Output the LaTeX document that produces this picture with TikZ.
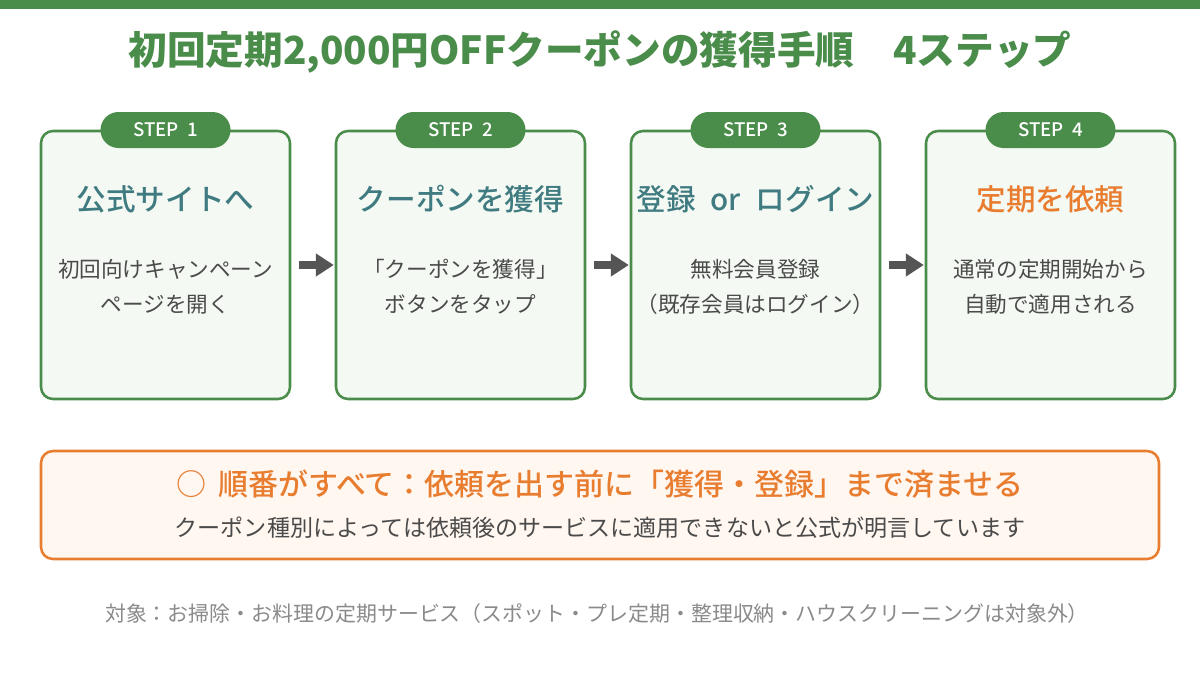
\documentclass[tikz,border=0pt]{standalone}
\usepackage{fontspec}
\setmainfont{Noto Sans CJK JP}
\newfontfamily\medfont{Noto Sans CJK JP Medium}
\usetikzlibrary{arrows.meta}
\definecolor{grn}{HTML}{4A8C4A}
\definecolor{teal}{HTML}{3F7B80}
\definecolor{org}{HTML}{E87D30}
\definecolor{txt}{HTML}{4A4A4A}
\definecolor{foot}{HTML}{8A8A8A}
\definecolor{boxfill}{HTML}{F4F9F3}
\definecolor{notefill}{HTML}{FFF7F0}
\definecolor{arrc}{HTML}{555555}
\tikzset{
  stepbox/.style={draw=grn, line width=1.9pt, fill=boxfill, rounded corners=9pt,
    minimum width=186.75pt, minimum height=201pt, inner sep=0pt},
  badge/.style={fill=grn, text=white, font=\medfont\fontsize{14}{16}\selectfont,
    minimum width=97.5pt, minimum height=27pt, rounded corners=13.5pt, inner sep=0pt},
  head/.style={font=\medfont\fontsize{22.2}{26}\selectfont, text=teal, inner sep=0pt},
  body/.style={font=\fontsize{16.2}{26.25}\selectfont, text=txt, align=center, inner sep=0pt},
  arr/.style={draw=arrc, line width=6pt, -{Triangle[length=13.5pt,width=16.5pt]}},
  notebox/.style={draw=org, line width=1.9pt, fill=notefill, rounded corners=9pt,
    minimum width=838.5pt, minimum height=81pt, inner sep=0pt}
}
\begin{document}
\begin{tikzpicture}[x=0.75pt,y=-0.75pt]
\useasboundingbox (0,0) rectangle (1200,675);
\fill[white] (0,0) rectangle (1200,675);
\fill[grn] (0,0) rectangle (1200,9);
\node[font=\bfseries\fontsize{29}{34}\selectfont, text=grn] (title) at (600,52)
  {初回定期2,000円OFFクーポンの獲得手順　4ステップ};

\node[stepbox] (b1) at (165.5,265) {};
\node[stepbox] (b2) at (460.5,265) {};
\node[stepbox] (b3) at (755.5,265) {};
\node[stepbox] (b4) at (1050.5,265) {};

\node[badge] (s1) at (165.5,130) {STEP\hspace{0.45em}1};
\node[badge] (s2) at (460.5,130) {STEP\hspace{0.45em}2};
\node[badge] (s3) at (755.5,130) {STEP\hspace{0.45em}3};
\node[badge] (s4) at (1050.5,130) {STEP\hspace{0.45em}4};

\node[head] (h1) at (165.5,199) {公式サイトへ};
\node[head] (h2) at (460.5,199) {クーポンを獲得};
\node[head] (h3) at (755.5,199) {登録\hspace{0.5em}or\hspace{0.5em}ログイン};
\node[head, text=org] (h4) at (1050.5,199) {定期を依頼};

\node[body] (t1) at (165.5,287) {初回向けキャンペーン\\ページを開く};
\node[body] (t2) at (460.5,287) {「クーポンを獲得」\\ボタンをタップ};
\node[body] (t3) at (755.5,287) {無料会員登録\\（既存会員はログイン）};
\node[body] (t4) at (1050.5,287) {通常の定期開始から\\自動で適用される};

\draw[arr] ([xshift=6pt]b1.east) -- ([xshift=-0.7pt]b2.west);
\draw[arr] ([xshift=6pt]b2.east) -- ([xshift=-0.7pt]b3.west);
\draw[arr] ([xshift=6pt]b3.east) -- ([xshift=-0.7pt]b4.west);

\node[notebox] (note) at (600,505) {};
\node[font=\medfont\fontsize{22.5}{26}\selectfont, text=org, inner sep=0pt] (nt) at (600,484)
  {○\hspace{0.4em}順番がすべて：依頼を出す前に「獲得・登録」まで済ませる};
\node[font=\fontsize{17.3}{20}\selectfont, text=txt, inner sep=0pt] (ns) at (600,528)
  {クーポン種別によっては依頼後のサービスに適用できないと公式が明言しています};

\node[font=\fontsize{15.7}{18}\selectfont, text=foot, inner sep=0pt] (ft) at (597,614)
  {対象：お掃除・お料理の定期サービス（スポット・プレ定期・整理収納・ハウスクリーニングは対象外）};
\end{tikzpicture}
\end{document}
